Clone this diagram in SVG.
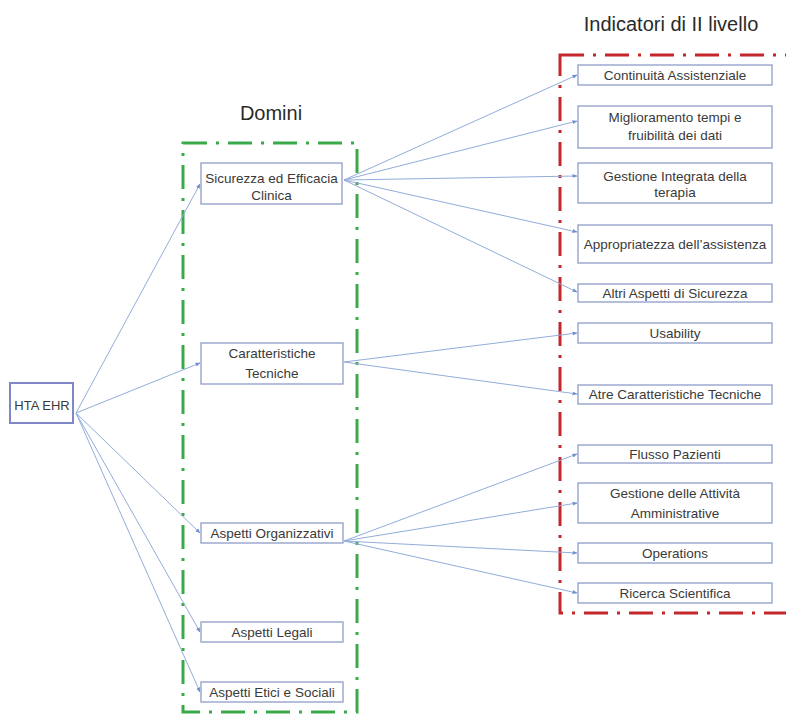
<svg xmlns="http://www.w3.org/2000/svg" width="786" height="714" viewBox="0 0 786 714">
<style>
.box{fill:#fff;stroke:#8e9dc9;stroke-width:1.3}
.t{font-family:"Liberation Sans",Arial,sans-serif;font-size:13.5px;fill:#3a3a3a;text-anchor:middle}
.title{font-family:"Liberation Sans",Arial,sans-serif;font-size:20px;fill:#2a2a2a;text-anchor:middle}
.c{stroke:#93acd9;stroke-width:1;fill:none;marker-end:url(#ah)}
.green{fill:none;stroke:#3aa94a;stroke-width:3;stroke-dasharray:24 9 3 9}
.red{fill:none;stroke:#c3262b;stroke-width:3;stroke-dasharray:24 9 3 9}
</style>
<defs>
<marker id="ah" viewBox="0 0 10 10" refX="9" refY="5" markerWidth="5" markerHeight="5" orient="auto">
<path d="M0,1 L10,5 L0,9 z" fill="#6f8fd0"/>
</marker>
</defs>
<rect width="786" height="714" fill="#fff"/>
<text class="title" x="271" y="120">Domini</text>
<text class="title" x="671" y="31">Indicatori di II livello</text>
<rect class="green" x="183" y="143" width="174" height="569"/>
<rect class="red" x="560" y="55" width="240" height="558"/>
<g id="connectors">
<path class="c" d="M76,413 L200,184"/>
<path class="c" d="M76,413 L200,363"/>
<path class="c" d="M76,413 L200,533"/>
<path class="c" d="M76,413 L200,632"/>
<path class="c" d="M76,413 L200,692"/>
<path class="c" d="M344,180 L577,75"/>
<path class="c" d="M344,180 L577,121"/>
<path class="c" d="M344,180 L577,176"/>
<path class="c" d="M344,180 L577,232"/>
<path class="c" d="M344,180 L577,292"/>
<path class="c" d="M344,362 L577,333"/>
<path class="c" d="M344,362 L577,394"/>
<path class="c" d="M344,541 L577,454"/>
<path class="c" d="M344,541 L577,503"/>
<path class="c" d="M344,541 L577,553"/>
<path class="c" d="M344,541 L577,593"/>
</g>
<g id="hta"><rect class="box" x="10" y="383" width="63" height="40" style="stroke:#7f87c9;stroke-width:2"/><text class="t" x="42" y="410" style="font-size:13px">HTA EHR</text></g>
<g id="d1"><rect class="box" x="201" y="163" width="141" height="41"/><text class="t" x="271.5" y="183">Sicurezza ed Efficacia</text><text class="t" x="271.5" y="200">Clinica</text></g>
<g id="d2"><rect class="box" x="201" y="343" width="142" height="41"/><text class="t" x="272" y="358">Caratteristiche</text><text class="t" x="272" y="378">Tecniche</text></g>
<g id="d3"><rect class="box" x="201" y="523" width="142" height="20"/><text class="t" x="272" y="538">Aspetti Organizzativi</text></g>
<g id="d4"><rect class="box" x="201" y="622" width="142" height="20"/><text class="t" x="272" y="637">Aspetti Legali</text></g>
<g id="d5"><rect class="box" x="201" y="682" width="142" height="20"/><text class="t" x="272" y="697">Aspetti Etici e Sociali</text></g>
<g id="i1"><rect class="box" x="578" y="65" width="194" height="20"/><text class="t" x="675" y="80">Continuità Assistenziale</text></g>
<g id="i2"><rect class="box" x="578" y="106" width="194" height="42"/><text class="t" x="675" y="122">Miglioramento tempi e</text><text class="t" x="675" y="140">fruibilità dei dati</text></g>
<g id="i3"><rect class="box" x="578" y="163" width="194" height="40"/><text class="t" x="675" y="181">Gestione Integrata della</text><text class="t" x="675" y="197">terapia</text></g>
<g id="i4"><rect class="box" x="578" y="225" width="194" height="38"/><text class="t" x="675" y="249">Appropriatezza dell’assistenza</text></g>
<g id="i5"><rect class="box" x="578" y="284" width="194" height="18"/><text class="t" x="675" y="298">Altri Aspetti di Sicurezza</text></g>
<g id="i6"><rect class="box" x="578" y="323" width="194" height="20"/><text class="t" x="675" y="338">Usability</text></g>
<g id="i7"><rect class="box" x="578" y="385" width="194" height="19"/><text class="t" x="675" y="399">Atre Caratteristiche Tecniche</text></g>
<g id="i8"><rect class="box" x="578" y="445" width="194" height="18"/><text class="t" x="675" y="459">Flusso Pazienti</text></g>
<g id="i9"><rect class="box" x="578" y="483" width="194" height="40"/><text class="t" x="675" y="498">Gestione delle Attività</text><text class="t" x="675" y="518">Amministrative</text></g>
<g id="i10"><rect class="box" x="578" y="543" width="194" height="20"/><text class="t" x="675" y="558">Operations</text></g>
<g id="i11"><rect class="box" x="578" y="583" width="194" height="20"/><text class="t" x="675" y="598">Ricerca Scientifica</text></g>
</svg>
